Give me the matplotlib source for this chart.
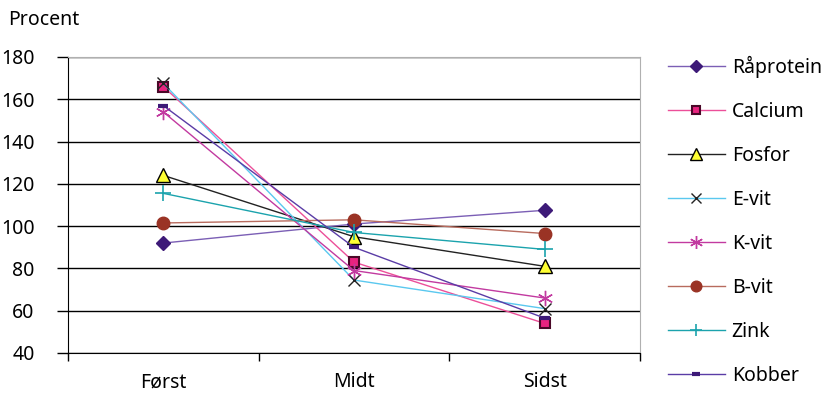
import matplotlib.pyplot as plt
from matplotlib.lines import Line2D
import numpy as np

plt.rcParams['font.family'] = ['Noto Sans', 'DejaVu Sans']
plt.rcParams['font.size'] = 14

categories = ['Først', 'Midt', 'Sidst']
yticks = [40, 60, 80, 100, 120, 140, 160, 180]

raprotein = [92, 101, 107.5]
calcium = [166, 83, 54]
fosfor = [124, 95, 81]
e_vit = [167.5, 74.5, 61]
k_vit = [154, 79, 66]
b_vit = [101.5, 103, 96.5]
zink = [115.5, 97, 89]
kobber = [157, 90, 56.5]

series = [
    ('Råprotein', raprotein, dict(color='#7b5fb5', marker='D', ms=7.5, mfc='#3d1a78', mec='#3d1a78')),
    ('Calcium', calcium, dict(color='#ec4f99', marker='s', ms=7, mfc='#e8237f', mec='#4a0828', mew=1.5)),
    ('Fosfor', fosfor, dict(color='#222222', marker='^', ms=9.5, mfc='#ffff33', mec='#000000', mew=1)),
    ('E-vit', e_vit, dict(color='#5ac8ef', marker='x', ms=9, mfc='none', mec='#222222', mew=1)),
    ('K-vit', k_vit, dict(color='#c23aa0', marker=(6, 2, 0), ms=11, mec='#c23aa0', mew=1)),
    ('B-vit', b_vit, dict(color='#b86b5e', marker='o', ms=9, mfc='#9a3325', mec='#9a3325')),
    ('Zink', zink, dict(color='#1ba3ad', marker='+', ms=11, mec='#1ba3ad', mew=1.2)),
    ('Kobber', kobber, dict(color='#5a3ca6', marker='_', ms=7, mec='#3d1a78', mew=3)),
]

fig = plt.figure(figsize=(8.27, 3.94), dpi=100)
ax = fig.add_axes([68 / 827, 1 - 353 / 394, (640 - 68) / 827, (353 - 57) / 394])

x = np.arange(len(categories))
handles = []
for name, vals, st in series:
    ln, = ax.plot(x, vals, lw=1, label=name, zorder=3, **st)
    handles.append(ln)

ax.set_xlim(-0.5, 2.5)
ax.set_ylim(40, 180)
ax.set_yticks(yticks)
ax.set_xticks(x)
ax.set_xticklabels(categories)
ax.set_xticks([-0.5, 0.5, 1.5, 2.5], minor=True)
ax.tick_params(axis='x', which='major', length=0, pad=14)
ax.tick_params(axis='x', which='minor', length=6, width=1, direction='out')
ax.tick_params(axis='y', length=8, width=1, direction='out', pad=16)
ax.yaxis.grid(True, color='black', lw=1)
ax.set_axisbelow(True)
for s in ['top', 'right']:
    ax.spines[s].set_color('#b0b0b0')
for s in ['left', 'bottom']:
    ax.spines[s].set_color('black')

fig.text(8 / 827, 1 - 20 / 394, 'Procent', ha='left', va='center')

fig.legend(handles=handles, loc='upper left', bbox_to_anchor=(660 / 827, 1 - 48 / 394),
           frameon=False, handlelength=2.93, labelspacing=1.235, handletextpad=0.36,
           borderaxespad=0, markerscale=0.85)

fig.savefig('out.png', dpi=100)
